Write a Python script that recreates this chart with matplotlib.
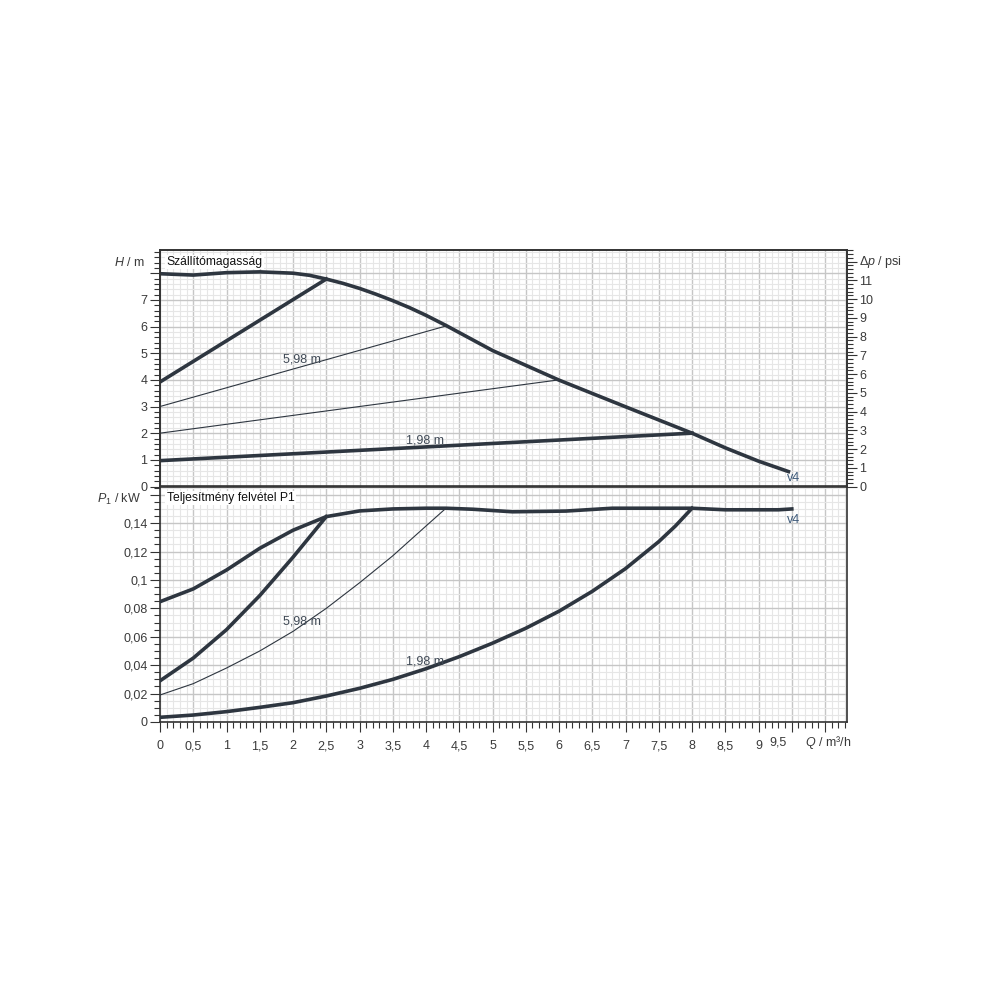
import matplotlib
matplotlib.use('Agg')
import matplotlib.pyplot as plt
import numpy as np
from matplotlib.ticker import MultipleLocator, FixedLocator

plt.rcParams['font.family'] = ['Liberation Sans', 'DejaVu Sans']
plt.rcParams['mathtext.fontset'] = 'custom'
plt.rcParams['mathtext.rm'] = 'Liberation Sans'
plt.rcParams['mathtext.it'] = 'Liberation Sans:italic'

# ── adatok: szállítómagasság H (m) ──────────────────────────────
q_hmax = [0, 0.5, 1.0, 1.5, 2.0, 2.25, 2.5, 2.75, 3.0, 3.25, 3.5, 3.75, 4.0, 4.3,
          5.0, 6.0, 7.0, 8.0, 8.5, 9.0, 9.45]
h_hmax = [7.98, 7.93, 8.02, 8.05, 8.0, 7.92, 7.78, 7.62, 7.43, 7.21, 6.97, 6.71, 6.42, 6.04,
          5.1, 3.99, 2.99, 2.0, 1.45, 0.95, 0.56]

q_h_pp = [0, 2.5]
h_h_pp = [3.92, 7.78]
q_h_598 = [0, 4.3]
h_h_598 = [3.0, 6.02]
q_h_4 = [0, 6.0]
h_h_4 = [2.0, 4.0]
q_h_198 = [0, 8.0]
h_h_198 = [0.97, 2.0]

# ── adatok: teljesítmény felvétel P1 (kW) ──────────────────────
q_pmax = [0, 0.5, 1.0, 1.5, 2.0, 2.5, 3.0, 3.5, 4.0, 4.3, 4.7, 5.3, 6.1, 6.8, 8.0, 8.5, 9.3, 9.5]
p_pmax = [0.0847, 0.0937, 0.107, 0.1223, 0.135, 0.1446, 0.1486, 0.150, 0.1505, 0.1505,
          0.1498, 0.148, 0.1485, 0.1505, 0.1505, 0.1494, 0.1494, 0.150]

q_p_pp = [0, 0.5, 1.0, 1.5, 2.0, 2.5]
p_p_pp = [0.029, 0.045, 0.065, 0.089, 0.116, 0.1446]

q_p_598 = [0, 0.5, 1.0, 1.5, 2.0, 2.5, 3.0, 3.5, 4.0, 4.3]
p_p_598 = [0.019, 0.027, 0.038, 0.050, 0.0638, 0.080, 0.098, 0.117, 0.138, 0.1505]

q_p_198 = [0, 0.5, 1.0, 1.5, 2.0, 2.5, 3.0, 3.5, 4.0, 4.5, 5.0, 5.5, 6.0, 6.5, 7.0, 7.5,
           7.75, 8.0]
p_p_198 = [0.0033, 0.0049, 0.0073, 0.0103, 0.0136, 0.0183, 0.0237, 0.0300, 0.0375, 0.046,
           0.0555, 0.066, 0.078, 0.092, 0.108, 0.127, 0.138, 0.1505]

x_ticks = np.arange(0, 9.01, 0.5)
h_ticks = list(range(0, 8))
psi_ticks = list(range(0, 12))
p_ticks = [0, 0.02, 0.04, 0.06, 0.08, 0.1, 0.12, 0.14]

C_LINE = '#2e3640'
C_TXT = '#3a3a3a'
C_LBL = '#404a56'
C_V4 = '#3b5878'
M_TO_PSI = 1.42233


def fmt(v):
    return ('%g' % v).replace('.', ',')


def style_grid(ax):
    ax.grid(which='major', color='#c6c6c6', lw=1.0, zorder=0)
    ax.grid(which='minor', color='#e6e6e6', lw=0.8, zorder=0)
    ax.set_axisbelow(True)
    for sp in ax.spines.values():
        sp.set_color('#333333')
        sp.set_linewidth(1.2)


fig = plt.figure(figsize=(10, 10), dpi=100)
fig.patch.set_facecolor('white')

XMAX = 10.33
ax1 = fig.add_axes([0.160, 0.5135, 0.687, 0.2365])
ax2 = fig.add_axes([0.160, 0.278, 0.687, 0.2355])

# ── felső diagram ────────────────────────────────────────────────
ax1.set_xlim(0, XMAX)
ax1.set_ylim(0, 8.87)
ax1.xaxis.set_major_locator(MultipleLocator(0.5))
ax1.xaxis.set_minor_locator(MultipleLocator(0.1))
ax1.yaxis.set_minor_locator(MultipleLocator(0.2))
ax1.tick_params(axis='x', which='both', bottom=False, labelbottom=False)
ax1.tick_params(axis='y', which='major', direction='out', length=7, width=0.8,
                color='#333333', labelsize=9, labelcolor=C_TXT, pad=2)
ax1.tick_params(axis='y', which='minor', direction='out', length=4, width=0.8, color='#333333')
ax1.set_yticks(list(range(0, 9)))
ax1.set_yticklabels([str(t) if t in h_ticks else '' for t in range(0, 9)])
style_grid(ax1)

ax1.plot(q_hmax, h_hmax, color=C_LINE, lw=2.6, zorder=4, solid_joinstyle='round')
ax1.plot(q_h_pp, h_h_pp, color=C_LINE, lw=2.6, zorder=3)
ax1.plot(q_h_598, h_h_598, color=C_LINE, lw=0.8, zorder=3)
ax1.plot(q_h_4, h_h_4, color=C_LINE, lw=0.8, zorder=3)
ax1.plot(q_h_198, h_h_198, color=C_LINE, lw=2.6, zorder=3)

ax1.text(2.14, 4.75, '5,98 m', ha='center', va='center', fontsize=9, color=C_LBL, zorder=5)
ax1.text(3.98, 1.71, '1,98 m', ha='center', va='center', fontsize=9, color=C_LBL, zorder=5)
ax1.text(9.43, 0.33, 'v4', ha='left', va='center', fontsize=9, color=C_V4, zorder=5)
ax1.text(0.1, 8.43, 'Szállítómagasság', ha='left', va='center', fontsize=8.7,
         color='#111111', zorder=5,
         bbox=dict(boxstyle='square,pad=0.1', facecolor='white', edgecolor='none'))

# psi tengely
ax1r = ax1.twinx()
ax1r.set_ylim(0, 8.87 * M_TO_PSI)
ax1r.yaxis.set_major_locator(FixedLocator(list(range(0, 13))))
ax1r.yaxis.set_minor_locator(MultipleLocator(0.2))
ax1r.set_yticklabels([str(t) if t in psi_ticks else '' for t in range(0, 13)])
ax1r.tick_params(axis='y', which='major', direction='out', length=7, width=0.8,
                 color='#333333', labelsize=9, labelcolor=C_TXT, pad=2)
ax1r.tick_params(axis='y', which='minor', direction='out', length=4, width=0.8, color='#333333')
for sp in ax1r.spines.values():
    sp.set_color('#333333')
    sp.set_linewidth(1.2)

# ── alsó diagram ─────────────────────────────────────────────────
ax2.set_xlim(0, XMAX)
ax2.set_ylim(0, 0.1658)
ax2.xaxis.set_minor_locator(MultipleLocator(0.1))
ax2.yaxis.set_minor_locator(MultipleLocator(0.005))
ax2.set_yticks(p_ticks + [0.16])
ax2.set_yticklabels([fmt(t) for t in p_ticks] + [''])
ax2.set_xticks(list(np.arange(0, 10.01, 0.5)))
ax2.set_xticklabels([fmt(t) for t in x_ticks] + ['', ''])
ax2.tick_params(axis='y', which='major', direction='out', length=7, width=0.8,
                color='#333333', labelsize=9, labelcolor=C_TXT, pad=2)
ax2.tick_params(axis='y', which='minor', direction='out', length=4, width=0.8, color='#333333')
ax2.tick_params(axis='x', which='major', direction='out', length=7, width=0.8,
                color='#333333', labelsize=9, labelcolor=C_TXT, pad=6)
ax2.tick_params(axis='x', which='minor', direction='out', length=4, width=0.8, color='#333333')
style_grid(ax2)

ax2.plot(q_pmax, p_pmax, color=C_LINE, lw=2.6, zorder=4, solid_joinstyle='round')
ax2.plot(q_p_pp, p_p_pp, color=C_LINE, lw=2.6, zorder=3, solid_joinstyle='round')
ax2.plot(q_p_598, p_p_598, color=C_LINE, lw=0.8, zorder=3)
ax2.plot(q_p_198, p_p_198, color=C_LINE, lw=2.6, zorder=3, solid_joinstyle='round')

ax2.text(2.14, 0.0711, '5,98 m', ha='center', va='center', fontsize=9, color=C_LBL, zorder=5)
ax2.text(3.98, 0.0423, '1,98 m', ha='center', va='center', fontsize=9, color=C_LBL, zorder=5)
ax2.text(9.43, 0.1423, 'v4', ha='left', va='center', fontsize=9, color=C_V4, zorder=5)
ax2.text(0.1, 0.1575, 'Teljesítmény felvétel P1', ha='left', va='center', fontsize=8.7,
         color='#111111', zorder=5,
         bbox=dict(boxstyle='square,pad=0.1', facecolor='white', edgecolor='none'))

# utolsó x felirat és tengelynév
ax2.text(9.29, -0.089, '9,5', transform=ax2.get_xaxis_transform(),
         ha='center', va='center', fontsize=9, color=C_TXT)
ax2.text(9.70, -0.089, '$Q$ / m³/h', transform=ax2.get_xaxis_transform(),
         ha='left', va='center', fontsize=9, color=C_TXT)

# tengelyfeliratok
fig.text(0.145, 1 - 0.262, '$H$ / m', ha='right', va='center', fontsize=9, color=C_TXT)
fig.text(0.141, 1 - 0.499, '$P_1$ / kW', ha='right', va='center', fontsize=9, color=C_TXT)
fig.text(0.859, 1 - 0.262, 'Δ$p$ / psi', ha='left', va='center', fontsize=9, color=C_TXT)

fig.savefig('out.png', dpi=100, facecolor='white')
